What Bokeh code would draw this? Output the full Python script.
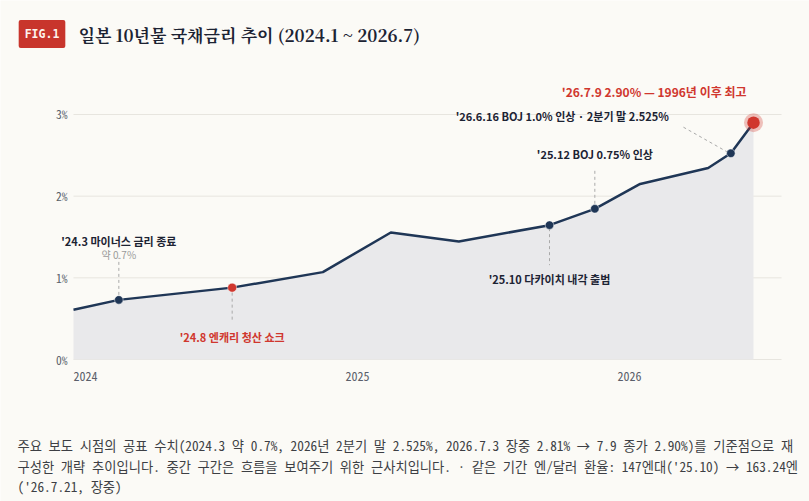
from bokeh.plotting import figure
from bokeh.models import Range1d, Label
from bokeh.embed import file_html
from bokeh.resources import INLINE

# ---------------- data ----------------
dates = ["2024-01", "2024-03", "2024-08", "2024-12", "2025-03", "2025-06",
         "2025-10", "2025-12", "2026-02", "2026-05", "2026-06", "2026-07"]
values = [0.61, 0.73, 0.88, 1.07, 1.555, 1.445, 1.645, 1.845, 2.15, 2.345, 2.525, 2.90]

y_ticks = [0, 1, 2, 3]
y_tick_labels = ["0%", "1%", "2%", "3%"]
x_tick_months = ["2024-01", "2025-01", "2026-01"]
x_tick_labels = ["2024", "2025", "2026"]

navy_events = ["2024-03", "2025-10", "2025-12", "2026-06"]
red_event = "2024-08"
peak_event = "2026-07"

title_text = "일본 10년물 국채금리 추이 (2024.1 ~ 2026.7)"
badge_text = "FIG.1"
footer_lines = [
    "주요 보도 시점의 공표 수치(2024.3 약 0.7%, 2026년 2분기 말 2.525%, 2026.7.3 장중 2.81% → 7.9 종가 2.90%)를 기준점으로 재",
    "구성한 개략 추이입니다. 중간 구간은 흐름을 보여주기 위한 근사치입니다. · 같은 기간 엔/달러 환율: 147엔대('25.10) → 163.24엔",
    "('26.7.21, 장중)",
]

# ---------------- helpers ----------------
def midx(s):
    y, m = s.split("-")
    return (int(y) - 2024) * 12 + int(m) - 1

xs = [midx(d) for d in dates]
val = dict(zip(dates, values))

W, H = 809, 501
PL, PR, PB = 73, 781, 359   # plot-area left / right / zero line (pixels)
SX = 22.667   # px per month
SY = 81.67    # px per 1%

def px2x(px):
    return (px - PL) / SX

def px2y(py):
    return (PB - py) / SY

BG = "#fbfaf6"
NAVY = "#1f3656"
RED = "#d0372e"
DARK = "#1c2333"
GREY_DASH = "#a9a9a9"
TICK = "#5a5f6a"
KFONT = "Noto Sans CJK KR"
MONO = "Noto Sans Mono CJK KR, DejaVu Sans Mono, monospace"

p = figure(width=W, height=H,
           x_range=Range1d(px2x(0), px2x(W)), y_range=Range1d(px2y(H), px2y(0)),
           output_backend="svg", toolbar_location=None,
           min_border=0, min_border_left=0, min_border_right=0,
           min_border_top=0, min_border_bottom=0)
p.background_fill_color = BG
p.border_fill_color = BG
p.outline_line_color = None
p.axis.visible = False
p.grid.visible = False

# horizontal grid lines across the plot area
x_left, x_right = px2x(PL), px2x(PR)
p.segment(x0=[x_left] * len(y_ticks), y0=y_ticks, x1=[x_right] * len(y_ticks), y1=y_ticks,
          line_color="#e7e5df", line_width=1)

# y tick labels
for t, lab in zip(y_ticks, y_tick_labels):
    p.add_layout(Label(x=x_left, y=t, x_offset=-6, text=lab, text_font=MONO,
                       text_font_size="11.5px", text_color=TICK,
                       text_align="right", text_baseline="middle"))

# area + line
p.varea(x=xs, y1=[0] * len(xs), y2=values, fill_color="#e9e9eb", fill_alpha=1)
p.line(xs, values, line_color=NAVY, line_width=2.5, line_join="round")

# leader lines (dashed), anchored to event points with pixel offsets
def leader(month, dx0, dy0, dx1, dy1):
    m = midx(month)
    v = val[month]
    p.segment(x0=[m + dx0 / SX], y0=[v + dy0 / SY], x1=[m + dx1 / SX], y1=[v + dy1 / SY],
              line_color=GREY_DASH, line_width=1, line_dash="3 3")

leader("2024-03", 0, 5, 0, 42)
leader("2024-08", 0, -5, 0, -34)
leader("2025-10", 0, -3, 0, -40)
leader("2025-12", 0, 5, 0, 40)
leader("2026-06", -3, 1, -49, 27)

# markers
p.scatter([midx(d) for d in navy_events], [val[d] for d in navy_events], size=8.5,
          fill_color=NAVY, line_color="#ffffff", line_width=0.8, line_alpha=0.6)
p.scatter([midx(red_event)], [val[red_event]], size=9, fill_color=RED,
          line_color="#ffffff", line_width=0.8, line_alpha=0.6)
p.scatter([midx(peak_event)], [val[peak_event]], size=19, fill_color=RED,
          fill_alpha=0.3, line_color=None)
p.scatter([midx(peak_event)], [val[peak_event]], size=12.5, fill_color=RED, line_color=None)

# annotations
def ann(month, text, dx, dy, color=DARK, size="11px", align="center"):
    p.add_layout(Label(x=midx(month), y=val[month], x_offset=dx, y_offset=dy, text=text,
                       text_font=KFONT, text_font_style="bold", text_font_size=size,
                       text_color=color, text_align=align, text_baseline="middle"))

ann("2024-03", "'24.3 마이너스 금리 종료", 0, 59)
p.add_layout(Label(x=midx("2024-03"), y=val["2024-03"], y_offset=45, text="약 0.7%",
                   text_font=KFONT, text_font_size="10px", text_color="#9a9a9a",
                   text_align="center", text_baseline="middle"))
ann("2024-08", "'24.8 엔캐리 청산 쇼크", 0, -49, color=RED)
ann("2025-10", "'25.10 다카이치 내각 출범", 0, -54)
ann("2025-12", "'25.12 BOJ 0.75% 인상", 0, 55)
ann("2026-06", "'26.6.16 BOJ 1.0% 인상 · 2분기 말 2.525%", -62, 37, align="right")
ann("2026-07", "'26.7.9 2.90% — 1996년 이후 최고", -7, 31.5, color=RED, size="12px", align="right")

# x tick labels
for mt, lab in zip(x_tick_months, x_tick_labels):
    p.add_layout(Label(x=midx(mt), y=0, y_offset=-17, text=lab, text_font=MONO,
                       text_font_size="12px", text_color=TICK,
                       text_align="left", text_baseline="middle"))

# title + badge
p.add_layout(Label(x=px2x(41.5), y=px2y(33.5), text=badge_text, text_font="DejaVu Sans Mono",
                   text_font_style="bold", text_font_size="11.5px", text_color="#fdf3ee",
                   text_align="center", text_baseline="middle",
                   background_fill_color="#c8352c", padding=(6, 7), border_radius=2))
p.add_layout(Label(x=px2x(78), y=px2y(34), text=title_text,
                   text_font="Noto Serif CJK KR, Noto Sans CJK KR", text_font_style="bold",
                   text_font_size="17px", text_color=DARK,
                   text_align="left", text_baseline="middle"))

# footer
for i, line in enumerate(footer_lines):
    p.add_layout(Label(x=px2x(17), y=px2y(445 + i * 20.6), text=line, text_font=MONO,
                       text_font_size="13.3px", text_color="#3d3f44",
                       text_align="left", text_baseline="middle"))

open("out.html", "w").write(file_html(p, INLINE))
